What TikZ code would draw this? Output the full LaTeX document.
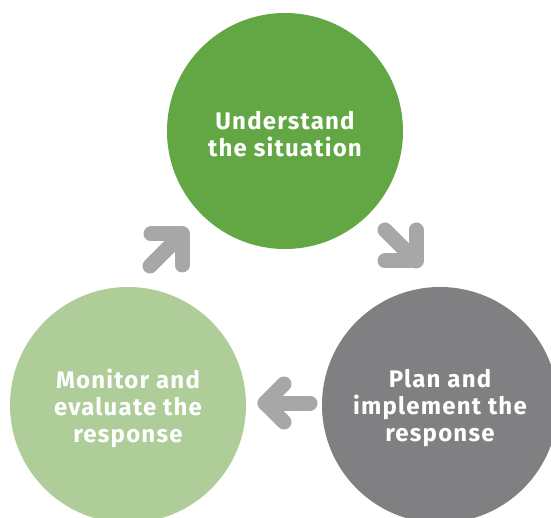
\documentclass[tikz,border=0pt]{standalone}
\usepackage{fontspec}
\setmainfont{Fira Sans}[LetterSpace=5]
\begin{document}
\begin{tikzpicture}[x=1pt,y=-1pt,
  stage/.style={circle,minimum size=236pt,inner sep=0pt},
  label/.style={text=white,font=\bfseries\fontsize{24}{27}\selectfont,align=center,inner sep=0pt},
  cyc/.style={line width=15pt,line cap=round,line join=round,draw=arrowgrey}]
\definecolor{dgreen}{HTML}{62A744}
\definecolor{lgreen}{HTML}{AECD98}
\definecolor{dgrey}{HTML}{808083}
\definecolor{arrowgrey}{HTML}{A7A7AA}
\useasboundingbox (0,0) rectangle (551,518);
\node[stage,fill=dgreen] (u) at (285,131) {};
\node[stage,fill=lgreen] (m) at (128,405) {};
\node[stage,fill=dgrey] (p) at (440,405) {};
\node[label] (ut) at (285,134) {Understand\\the situation};
\node[label] (mt) at (128,408) {Monitor and\\evaluate the\\response};
\node[label] (pt) at (440,408) {Plan and\\implement the\\response};
% arrow monitor -> understand
\coordinate (a1) at (150,266);
\coordinate (t1) at (182,234);
\draw[cyc] (a1) -- (t1);
\draw[cyc] (151,234) -- (t1) -- (182,265);
% arrow understand -> plan
\coordinate (a2) at (385,230);
\coordinate (t2) at (416,261);
\draw[cyc] (a2) -- (t2);
\draw[cyc] (385,261) -- (t2) -- (416,230);
% arrow plan -> monitor
\coordinate (a3) at (310,403);
\coordinate (t3) at (265,403);
\draw[cyc] (a3) -- (t3);
\draw[cyc] (284,384) -- (t3) -- (284,422);
\end{tikzpicture}
\end{document}
